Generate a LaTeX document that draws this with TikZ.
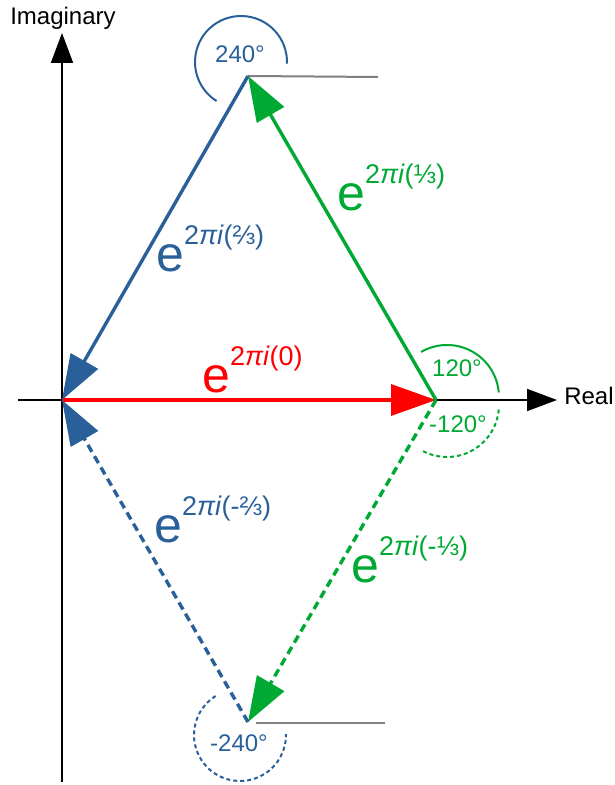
\documentclass[tikz,border=0pt]{standalone}
\usepackage{fontspec}
\setmainfont{Liberation Sans}
\usetikzlibrary{arrows.meta}
\definecolor{vblue}{HTML}{2A6099}
\definecolor{vgreen}{HTML}{00A933}
\definecolor{vred}{HTML}{FF0000}
\definecolor{refgray}{HTML}{808080}
\newcommand{\eexp}[1]{{\fontsize{50}{50}\selectfont e}\raisebox{27pt}{\fontsize{27}{27}\selectfont 2\textit{πi}(#1)}}

\begin{document}
\begin{tikzpicture}[x=1pt, y=1pt,
    vec/.style={line width=3.4pt, -{Triangle[length=45pt, width=31pt]}},
    axis/.style={line width=2pt, -{Triangle[length=30pt, width=22pt]}},
    angarc/.style={line width=2pt},
    dotarc/.style={line width=2pt, dash pattern=on 4pt off 3pt},
    vdash/.style={dash pattern=on 8pt off 5pt},
    refline/.style={line width=2pt, refgray},
    elabel/.style={inner sep=0pt, anchor=base west},
    alabel/.style={inner sep=0pt, anchor=base, font=\fontsize{24}{24}\selectfont},
    axlabel/.style={inner sep=0pt, anchor=base, font=\fontsize{24}{24}\selectfont}]
    \useasboundingbox (0,0) rectangle (615,785);

    % Vertices of the triangle
    \coordinate (O) at (62,385);
    \coordinate (A) at (436,385);
    \coordinate (T) at (248,709);
    \coordinate (B) at (248,63);

    % Axes
    \coordinate (xl) at (18,385);
    \coordinate (xr) at (557,385);
    \coordinate (yb) at (62,3);
    \coordinate (yt) at (62,752);
    \draw[axis] (xl) -- (xr);
    \draw[axis] (yb) -- (yt);
    \node[axlabel] (re) at (589,380) {Real};
    \node[axlabel] (im) at (63,760) {Imaginary};

    % Reference lines
    \draw[refline] (T) -- ++(130,-1);
    \draw[refline] ([xshift=8pt, yshift=-1pt]B) -- ++(129,0);

    % Vectors
    \draw[vec, vred] (O) -- (A);
    \draw[vec, vgreen] (A) -- (T);
    \draw[vec, vblue] (T) -- (O);
    \draw[vec, vdash, vgreen] (A) -- (B);
    \draw[vec, vdash, vblue] (B) -- (O);

    % Vector labels
    \node[elabel, vgreen] (l13) at (337,574) {\eexp{⅓}};
    \node[elabel, vblue] (l23) at (156,513) {\eexp{⅔}};
    \node[elabel, vred] (l0) at (202,392) {\eexp{0}};
    \node[elabel, vblue] (lm23) at (154,242) {\eexp{-⅔}};
    \node[elabel, vgreen] (lm13) at (351,202) {\eexp{-⅓}};

    % Angle arcs
    \coordinate (cT) at (241,723);
    \coordinate (cA) at (447,388);
    \coordinate (cA2) at (447,380);
    \coordinate (cB) at (240,50);
    \draw[angarc, vblue] ([shift={(-2:46pt)}]cT) arc[start angle=-2, end angle=238, radius=46pt];
    \draw[angarc, vgreen] ([shift={(5:52pt)}]cA) arc[start angle=5, end angle=120, radius=52pt];
    \draw[dotarc, vgreen] ([shift={(-5:52pt)}]cA2) arc[start angle=-5, end angle=-120, radius=52pt];
    \draw[dotarc, vblue] ([shift={(122:46pt)}]cB) arc[start angle=122, end angle=361, radius=46pt];

    % Angle labels
    \node[alabel, vblue] (a240) at (240,722) {240°};
    \node[alabel, vgreen] (a120) at (457,408) {120°};
    \node[alabel, vgreen] (am120) at (458,352) {-120°};
    \node[alabel, vblue] (am240) at (239,33) {-240°};
\end{tikzpicture}
\end{document}
